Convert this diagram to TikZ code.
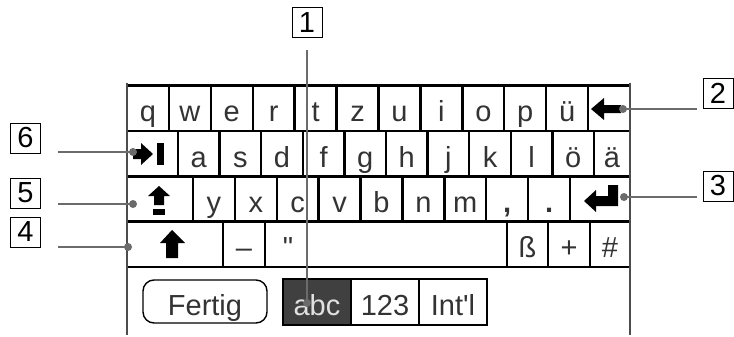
\documentclass[tikz,border=0pt]{standalone}
\usepackage{fontspec}
\setmainfont{Liberation Sans}[Ligatures=TeXOff]
\begin{document}
\begin{tikzpicture}[x=1pt,y=-1pt,
  keyfont/.style={font=\fontsize{29}{29}\selectfont,text=black!80},
  key/.style={draw=black,line width=2.4pt,inner sep=0pt,minimum height=45.5pt,
    text height=31pt,text depth=4pt,keyfont},
  tabkey/.style={key,minimum width=68pt},
  callout/.style={draw=black,line width=0.9pt,minimum width=30pt,minimum height=30pt,
    inner sep=0pt,font=\fontsize{29}{29}\selectfont},
  leader/.style={draw=black!58,line width=2.6pt},
  dot/.style={circle,fill=black!58,inner sep=0pt,minimum size=8pt},
  icon/.style={fill=black}
]
\useasboundingbox (0,0) rectangle (734,337);
% row 1
\foreach \t [count=\i from 0] in {q,w,e,r,t,z,u,i,o,p,ü,{}}{
  \pgfmathsetmacro\xa{127+\i*41.92}
  \node[key,minimum width=41.92pt] (r1k\i) at (\xa+20.96,108.3) {\t};
}
% row 2
\node[key,minimum width=51pt] (tab) at (152.5,153.7) {};
\foreach \t [count=\i from 0] in {a,s,d,f,g,h,j,k,l,ö}{
  \pgfmathsetmacro\xa{178+\i*41.6}
  \node[key,minimum width=41.6pt] (r2k\i) at (\xa+20.8,153.7) {\t};
}
\node[key,minimum width=36pt] (ae) at (612,153.7) {ä};
% row 3
\node[key,minimum width=66pt] (lock) at (160,198.7) {};
\foreach \t [count=\i from 0] in {y,x,c,v,b,n,m,{\textbf{,}},{\textbf{.}}}{
  \pgfmathsetmacro\xa{193+\i*41.89}
  \node[key,minimum width=41.89pt] (r3k\i) at (\xa+20.945,198.7) {\t};
}
\node[key,minimum width=60pt] (enter) at (600,198.7) {};
% row 4
\node[key,minimum width=96pt] (shift) at (175,244) {};
\node[key,minimum width=42pt] (dash) at (244,244) {–};
\node[key,minimum width=242pt] (space) at (386,244) {};
\node (quote) at (288,244) [keyfont,text height=31pt,text depth=4pt,inner sep=0pt] {"};
\node[key,minimum width=41pt] (sz) at (527.5,244) {ß};
\node[key,minimum width=42pt] (plus) at (569,244) {+};
\node[key,minimum width=40pt] (hash) at (610,244) {\#};
% frame sides
\draw[black!70,line width=2pt] (127,83) -- (127,335);
\draw[black!70,line width=2pt] (630,83) -- (630,335);
% bottom row
\node[draw=black,line width=1.4pt,rounded corners=11pt,minimum width=124pt,minimum height=43pt,
  keyfont,text height=31pt,text depth=4pt,inner sep=0pt] (fertig) at (205,301.5) {Fertig};
\node[tabkey,fill=black!75,text=black!12,minimum height=46pt] (abc) at (317,302) {abc};
\node[tabkey,minimum height=46pt] (n123) at (385,302) {123};
\node[tabkey,minimum height=46pt] (intl) at (453,302) {Int'l};
% icons
\fill[icon] (591,109) -- (604,98) -- (604,105) -- (621,105) -- (621,113) -- (604,113) -- (604,120) -- cycle;
\fill[icon] (133,149) -- (141,149) -- (141,143) -- (153,154) -- (141,165) -- (141,159) -- (133,159) -- cycle;
\fill[icon] (157,143) rectangle (164,165);
\fill[icon] (159,186) -- (170,196) -- (164,196) -- (164,205) -- (154,205) -- (154,196) -- (148,196) -- cycle;
\fill[icon] (153,209) rectangle (165,215);
\fill[icon] (172,230) -- (185,243) -- (178,243) -- (178,258) -- (166,258) -- (166,243) -- (160,243) -- cycle;
\fill[icon] (584,201) -- (596,190) -- (596,196) -- (608,196) -- (608,185) -- (618,185) -- (618,206) -- (596,206) -- (596,212) -- cycle;
% callouts
\node[callout] (c1) at (307,22.5) {1};
\node[callout] (c2) at (718,93) {2};
\node[callout] (c3) at (718,186) {3};
\node[callout] (c4) at (25.5,232) {4};
\node[callout] (c5) at (25.5,193) {5};
\node[callout] (c6) at (25.5,138) {6};
% leader ends
\coordinate (e1) at (307,303);
\coordinate (e2) at (623,109);
\coordinate (e3) at (624,197);
\coordinate (e4) at (128,247);
\coordinate (e5) at (133,204);
\coordinate (e6) at (133,152);
\draw[leader] (307,50) -- (e1);
\draw[leader] (697,109) -- (e2);
\draw[leader] (697,197) -- (e3);
\draw[leader] (58,247) -- (e4);
\draw[leader] (58,204) -- (e5);
\draw[leader] (58,152) -- (e6);
\foreach \e in {e1,e2,e3,e4,e5,e6} \node[dot] at (\e) {};
\end{tikzpicture}
\end{document}
